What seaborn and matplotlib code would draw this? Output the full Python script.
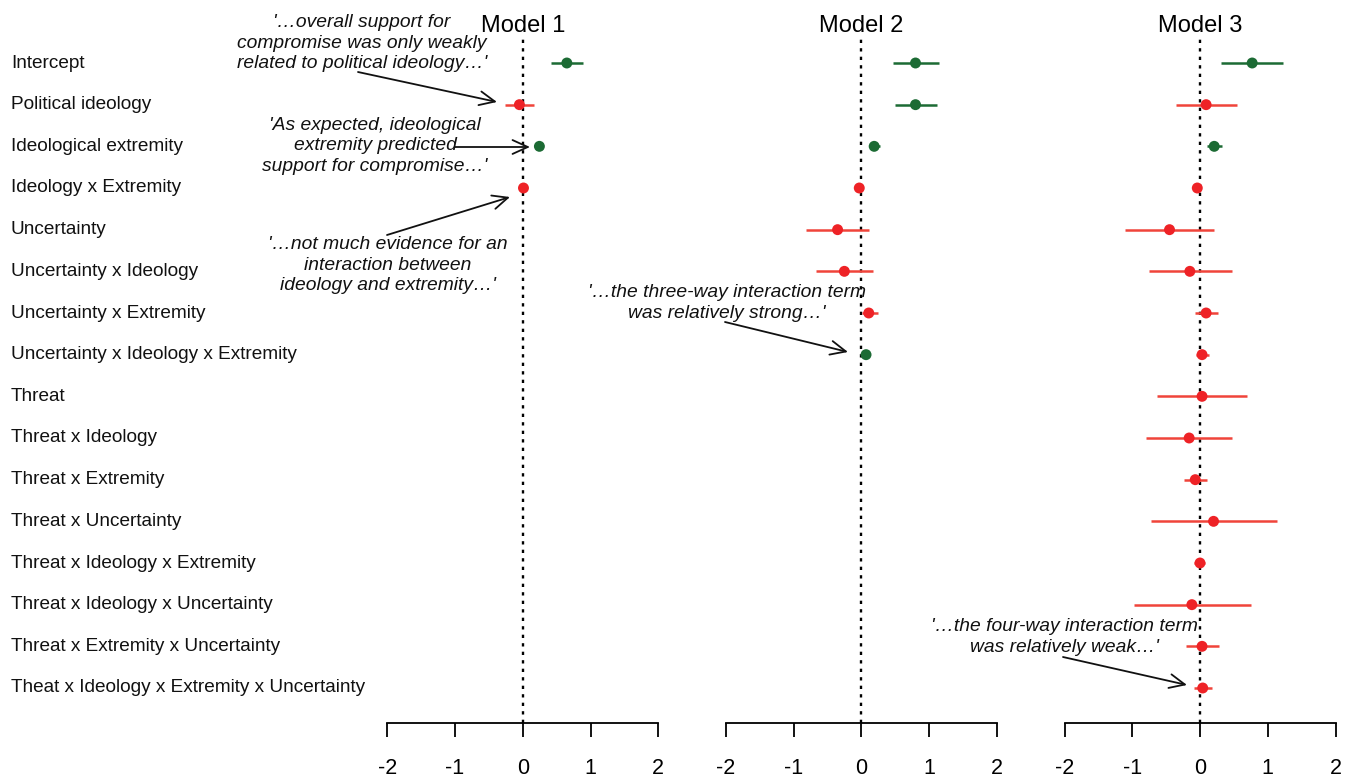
import numpy as np
import pandas as pd
import matplotlib
matplotlib.use("Agg")
import matplotlib.pyplot as plt
import seaborn as sns
from matplotlib.transforms import blended_transform_factory

# ---------------- data ----------------
terms = ["Intercept", "Political ideology", "Ideological extremity", "Ideology x Extremity",
         "Uncertainty", "Uncertainty x Ideology", "Uncertainty x Extremity",
         "Uncertainty x Ideology x Extremity", "Threat", "Threat x Ideology",
         "Threat x Extremity", "Threat x Uncertainty", "Threat x Ideology x Extremity",
         "Threat x Ideology x Uncertainty", "Threat x Extremity x Uncertainty",
         "Theat x Ideology x Extremity x Uncertainty"]

model_names = ["Model 1", "Model 2", "Model 3"]

m1_est = [0.65, -0.05, 0.245, 0.01]
m1_lo = [0.42, -0.26, 0.20, -0.02]
m1_hi = [0.89, 0.17, 0.29, 0.04]
m1_sig = [True, False, True, False]

m2_est = [0.80, 0.80, 0.19, -0.03, -0.35, -0.25, 0.11, 0.07]
m2_lo = [0.47, 0.50, 0.13, -0.06, -0.81, -0.67, 0.01, 0.02]
m2_hi = [1.14, 1.11, 0.28, 0.00, 0.11, 0.18, 0.24, 0.12]
m2_sig = [True, True, True, False, False, False, False, True]

m3_est = [0.77, 0.09, 0.21, -0.04, -0.45, -0.15, 0.09, 0.03,
          0.03, -0.16, -0.07, 0.20, 0.00, -0.12, 0.03, 0.04]
m3_lo = [0.31, -0.35, 0.10, -0.08, -1.10, -0.76, -0.08, -0.06,
         -0.64, -0.79, -0.24, -0.72, -0.09, -0.98, -0.20, -0.09]
m3_hi = [1.23, 0.54, 0.33, 0.00, 0.20, 0.47, 0.26, 0.14,
         0.70, 0.47, 0.10, 1.13, 0.08, 0.75, 0.28, 0.18]
m3_sig = [True, False, True] + [False] * 13

x_ticks = [-2, -1, 0, 1, 2]
x_tick_labels = ["-2", "-1", "0", "1", "2"]

annotations = [
    "'…overall support for\ncompromise was only weakly\nrelated to political ideology…'",
    "'As expected, ideological\nextremity predicted\nsupport for compromise…'",
    "'…not much evidence for an\ninteraction between\nideology and extremity…'",
    "'…the three-way interaction term\nwas relatively strong…'",
    "'…the four-way interaction term\nwas relatively weak…'",
]

models = [
    (m1_est, m1_lo, m1_hi, m1_sig),
    (m2_est, m2_lo, m2_hi, m2_sig),
    (m3_est, m3_lo, m3_hi, m3_sig),
]

# ---------------- style ----------------
sns.set_style("white")
plt.rcParams["font.family"] = ["Liberation Sans", "DejaVu Sans"]

GREEN = "#1c6b34"
RED = "#ee2226"
RED_LINE = "#f0443a"

W, H = 1351, 778
fig = plt.figure(figsize=(W / 100, H / 100), dpi=100)


def fx(x):
    return x / W


def fy(y):
    return 1 - y / H


panel_left = [387.3, 725.8, 1064.5]
panel_w = 271
top_px, bot_px = 38, 723

axes = []
for k, (est, lo, hi, sig) in enumerate(models):
    n = len(est)
    ax = fig.add_axes([fx(panel_left[k]), fy(bot_px), panel_w / W, (bot_px - top_px) / H])
    df = pd.DataFrame({"term": terms[:n], "row": np.arange(n), "est": est,
                       "lo": lo, "hi": hi, "sig": sig})
    ax.axvline(0, color="black", ls=(0, (1.4, 2.2)), lw=1.7, zorder=1)
    ax.hlines(df["row"], df["lo"], df["hi"],
              colors=[GREEN if s else RED_LINE for s in df["sig"]], lw=1.8, zorder=2)
    sns.scatterplot(data=df, x="est", y="row", hue="sig",
                    palette={True: GREEN, False: RED}, s=62, edgecolor="none",
                    legend=False, ax=ax, zorder=3)
    ax.set_xlim(-2, 2)
    ax.set_ylim(15.84, -0.6)
    ax.set_xticks(x_ticks)
    ax.set_xticklabels(x_tick_labels)
    ax.set_yticks([])
    ax.set_xlabel("")
    ax.set_ylabel("")
    for sp in ["left", "top", "right"]:
        ax.spines[sp].set_visible(False)
    ax.spines["bottom"].set_linewidth(1.3)
    ax.spines["bottom"].set_color("black")
    ax.spines["bottom"].set_bounds(-2, 2)
    ax.tick_params(axis="x", direction="out", length=10, width=1.3,
                   labelsize=15.5, pad=15, colors="black", bottom=True)
    ax.set_title(model_names[k], fontsize=17, pad=4.0, color="black")
    ax.patch.set_alpha(0)
    axes.append(ax)

# row labels
ax1 = axes[0]
tr = blended_transform_factory(fig.transFigure, ax1.transData)
for i, lab in enumerate(terms):
    ax1.text(fx(11), i, lab, transform=tr, ha="left", va="center",
             fontsize=13.7, color="#111111")

# annotations (text centre positions in px, arrow tail/head in px)
ann_text_pos = [(362, 43), (375, 146), (388, 265), (727, 303), (1064, 637)]
ann_arrows = [((358, 72), (497, 102)),
              ((455, 147), (530, 147)),
              ((387, 235), (510, 197)),
              ((725, 322), (848, 352)),
              ((1063, 657), (1187, 685))]

for txt, (tx, ty) in zip(annotations, ann_text_pos):
    fig.text(fx(tx), fy(ty), txt, ha="center", va="center", multialignment="center",
             fontsize=13.9, style="italic", color="#111111", linespacing=1.28)

for (t0, t1) in ann_arrows:
    ax1.annotate("", xy=(fx(t1[0]), fy(t1[1])), xytext=(fx(t0[0]), fy(t0[1])),
                 xycoords="figure fraction", textcoords="figure fraction",
                 annotation_clip=False,
                 arrowprops=dict(arrowstyle="->,head_length=1.1,head_width=0.5",
                                 lw=1.3, color="#111111", mutation_scale=10,
                                 shrinkA=0, shrinkB=0))

fig.savefig("out.png", dpi=100, facecolor="white")
